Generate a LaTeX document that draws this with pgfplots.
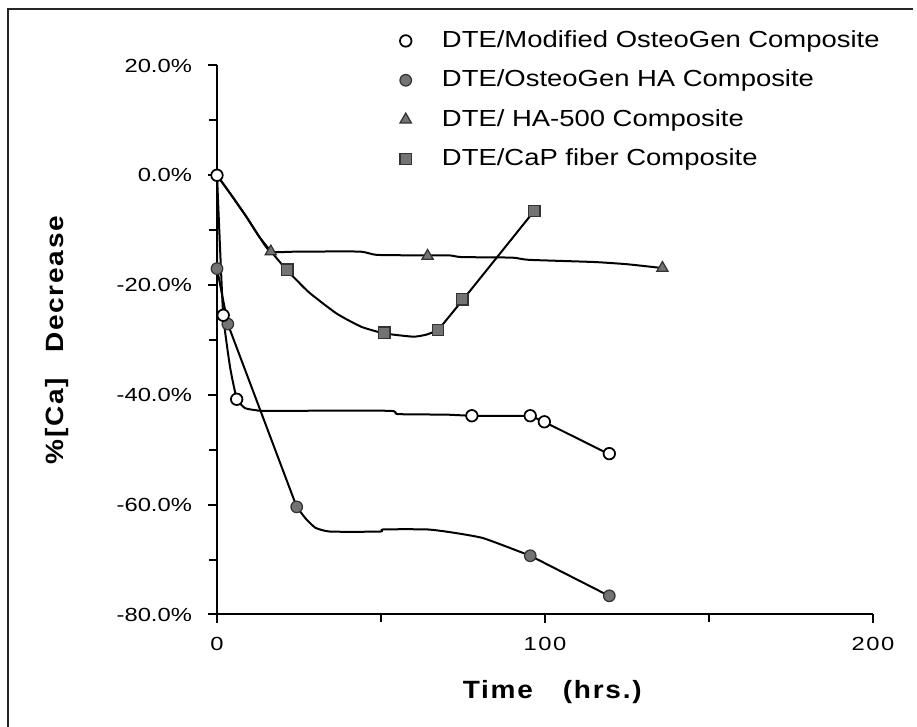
\documentclass[border=0pt]{standalone}
\usepackage{fontspec}
\setmainfont{Liberation Sans}[FakeStretch=1.25]
\newfontfamily\legfont{Liberation Sans}[FakeStretch=1.18]
\newfontfamily\labfont{Liberation Sans}[FakeStretch=1.12,LetterSpace=7]
\newfontfamily\xtfont{Liberation Sans}[FakeStretch=1.25,LetterSpace=8]
\usepackage{pgfplots}
\pgfplotsset{compat=1.18}

\definecolor{mkfill}{gray}{0.45}
\definecolor{mkdraw}{gray}{0.2}

\begin{document}
\begin{tikzpicture}
\useasboundingbox (0,0) rectangle (366.8pt,290.8pt);
% page frame (left and top edges only)
\draw[line width=1pt, black!85] (3.2pt,0pt) -- (3.2pt,287.2pt) -- (365.2pt,287.2pt);
\begin{axis}[
    at={(86.8pt,45pt)}, anchor=south west,
    scale only axis,
    width=262.4pt, height=219.6pt,
    xmin=0, xmax=200, ymin=-80, ymax=20,
    axis lines*=left,
    axis line style={line width=0.8pt},
    tick style={line width=0.8pt, black},
    tick align=outside,
    major tick length=3.5pt, minor tick length=3pt,
    xtick={0,100,200}, minor x tick num=1,
    ytick={-80,-60,...,20}, minor y tick num=1,
    xticklabel style={font=\fontsize{7.6}{9}\selectfont\xtfont, yshift=-2pt},
    yticklabel style={font=\fontsize{7.6}{9}\selectfont, xshift=-3pt},
    yticklabel={\pgfmathprintnumber[fixed,fixed zerofill,precision=1,assume math mode=true]{\tick}\%},
    /pgf/number format/assume math mode=true,
    xlabel={Time\hspace{12pt}(hrs.)},
    ylabel={\%[Ca]\hspace{10pt}Decrease},
    xlabel style={font=\fontsize{10}{12}\selectfont\labfont\bfseries,
        at={(axis description cs:0.511,-0.141)}, anchor=center},
    ylabel style={font=\fontsize{10}{12}\selectfont\labfont\bfseries,
        at={(axis description cs:-0.244,0.5)}, anchor=center, rotate=0},
    clip=false,
    reverse legend,
    legend style={draw=none, fill=none, inner sep=0pt,
        at={(axis description cs:0.2755,1.0712)}, anchor=north west,
        font=\fontsize{9.3}{11}\selectfont\legfont,
        row sep=4.5pt, nodes={inner sep=1.5pt}, cells={anchor=west}},
    legend image code/.code={\path[draw=none, fill=none] (-3pt,0pt) -- (13pt,0pt);
        \draw[#1] plot coordinates {(0pt,0pt)};},
]
% fitted curves
\addplot[black, line width=0.8pt, smooth, tension=0.3, forget plot] coordinates {
    (0,0) (4,-3.3) (9,-7.6) (13,-11.3) (16.5,-13.9) (21.2,-17.2) (28,-21.3)
    (36.5,-25.2) (44,-27.6) (51,-28.8) (59.9,-29.4) (64,-29.0) (67.4,-28.2)
};
\addplot[black, line width=0.8pt, forget plot] coordinates {
    (67.4,-28.2) (74.8,-22.8) (96.7,-6.5)
};
\addplot[black, line width=0.8pt, smooth, tension=0.3, forget plot] coordinates {
    (0,0) (4,-3.3) (9,-7.6) (13,-11.3) (16.4,-13.9) (25,-13.9) (43.6,-13.9)
    (48.7,-14.5) (64.2,-14.6) (71,-14.6) (74.6,-14.9) (90,-15.0) (95,-15.4)
    (115,-15.8) (125,-16.2) (135.8,-16.9)
};
\addplot[black, line width=0.8pt, smooth, tension=0.3, forget plot] coordinates {
    (0,0) (0.7,-10) (1.9,-25.5) (4,-35) (6,-40.6) (8.5,-42.4) (12,-42.8)
    (15,-42.9) (52.5,-42.9) (55,-43.5) (70,-43.6) (77.8,-43.8) (95.6,-43.8)
};
\addplot[black, line width=0.8pt, forget plot] coordinates {
    (95.6,-43.8) (99.7,-44.9) (119.5,-50.8)
};
\addplot[black, line width=0.8pt, forget plot] coordinates {
    (0,0) (0,-17.0) (3.3,-27.1) (24.3,-60.4)
};
\addplot[black, line width=0.8pt, smooth, tension=0.3, forget plot] coordinates {
    (24.3,-60.4) (27,-62.5) (30,-64.2) (34.5,-64.9) (49.7,-64.9) (50.7,-64.5)
    (63.9,-64.5) (71,-65.0) (81.2,-66.1) (95.5,-69.3)
};
\addplot[black, line width=0.8pt, forget plot] coordinates {
    (95.5,-69.3) (119.5,-76.6)
};
% data points
\addplot[only marks, mark=square*, mark size=2.3pt,
    mark options={fill=mkfill, draw=mkdraw, line width=0.5pt}] coordinates {
    (21.4,-17.2) (51.0,-28.7) (67.4,-28.2) (74.8,-22.6) (96.7,-6.5)
};
\addplot[only marks, mark=triangle*, mark size=2.6pt,
    mark options={fill=mkfill, draw=mkdraw, line width=0.5pt}] coordinates {
    (16.4,-13.9) (64.2,-14.7) (135.8,-16.9)
};
\addplot[only marks, mark=*, mark size=2.3pt,
    mark options={fill=mkfill, draw=mkdraw, line width=0.5pt}] coordinates {
    (0,-17.0) (3.3,-27.1) (24.3,-60.4) (95.5,-69.3) (119.6,-76.6)
};
\addplot[only marks, mark=*, mark size=2.3pt,
    mark options={fill=white, draw=black, line width=0.7pt}] coordinates {
    (0,0) (1.9,-25.5) (6.0,-40.8) (77.7,-43.8) (95.5,-43.8) (99.8,-44.9) (119.6,-50.7)
};
\legend{DTE/CaP fiber Composite, DTE/ HA-500 Composite,
    DTE/OsteoGen HA Composite, DTE/Modified OsteoGen Composite}
\end{axis}
\end{tikzpicture}
\end{document}
